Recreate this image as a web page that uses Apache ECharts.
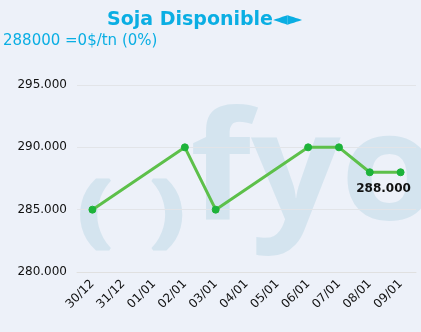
<!DOCTYPE html>
<html><head><meta charset="utf-8">
<script src="https://cdn.jsdelivr.net/npm/echarts@6/dist/echarts.min.js"></script>
<style>html,body{margin:0;padding:0;background:#edf1f9;}#c{width:421px;height:332px;}</style>
</head><body><div id="c"></div>
<script>
var categories = ['30/12','31/12','01/01','02/01','03/01','04/01','05/01','06/01','07/01','08/01','09/01'];
var values = [285000, null, null, 290000, 285000, null, null, 290000, 290000, 288000, 288000];
var yTicks = { min: 280000, max: 295000, interval: 5000 };
var titleText = 'Soja Disponible◄►';
var subText = '288000 =0$/tn (0%)';

var chart = echarts.init(document.getElementById('c'));
var lastIdx = values.length - 1;
var wm = '#d4e4ef';
chart.setOption({
  backgroundColor: '#edf1f9',
  animation: false,
  graphic: [
    { type: 'text', left: 190, top: 102, z: 0, scaleX: 1.05, style: { text: 'fyo', font: 'bold 150px "Open Sans"', fill: wm } },
    { type: 'text', left: 76, top: 173, z: 0, scaleX: 1.3, style: { text: '(', font: 'bold 78px "Open Sans"', fill: wm, stroke: wm, lineWidth: 3 } },
    { type: 'text', left: 148, top: 173, z: 0, scaleX: 1.3, style: { text: ')', font: 'bold 78px "Open Sans"', fill: wm, stroke: wm, lineWidth: 3 } }
  ],
  title: [
    { text: titleText, left: 102, top: 6, textStyle: { color: '#0aaee3', fontSize: 19, fontWeight: 'bold', fontFamily: 'DejaVu Sans' } },
    { text: subText, left: 3, top: 34, padding: 0, textStyle: { color: '#0aaee3', fontSize: 15, fontWeight: 'normal', fontFamily: 'DejaVu Sans' } }
  ],
  grid: { left: 77, right: 5, top: 85, bottom: 60 },
  xAxis: {
    type: 'category', data: categories, boundaryGap: true,
    axisLine: { lineStyle: { color: '#e0e0e0' } },
    axisTick: { lineStyle: { color: '#e0e0e0' }, length: 5 },
    axisLabel: { rotate: 45, color: '#111', fontSize: 12, fontFamily: 'DejaVu Sans', margin: 10, interval: 0 }
  },
  yAxis: {
    type: 'value', min: yTicks.min, max: yTicks.max, interval: yTicks.interval,
    axisLine: { show: false }, axisTick: { show: false },
    splitLine: { lineStyle: { color: '#e2e4e8' } },
    axisLabel: { color: '#111', fontSize: 12, fontFamily: 'DejaVu Sans', margin: 10,
      formatter: function (v) { return (v / 1000).toFixed(3); } }
  },
  series: [{
    type: 'line', data: values.map(function (v, i) {
      if (i === lastIdx) return { value: v, label: { show: true } };
      return v;
    }),
    connectNulls: true,
    lineStyle: { color: '#5dc04a', width: 3 },
    itemStyle: { color: '#1db33a', borderColor: '#1db33a' },
    symbol: 'circle', symbolSize: 7, showSymbol: true,
    label: { show: false, position: 'bottom', offset: [-17, 2], color: '#111', fontWeight: 'bold', fontSize: 12, fontFamily: 'DejaVu Sans',
      formatter: function (p) { return (p.value / 1000).toFixed(3); } }
  }]
});
</script></body></html>
